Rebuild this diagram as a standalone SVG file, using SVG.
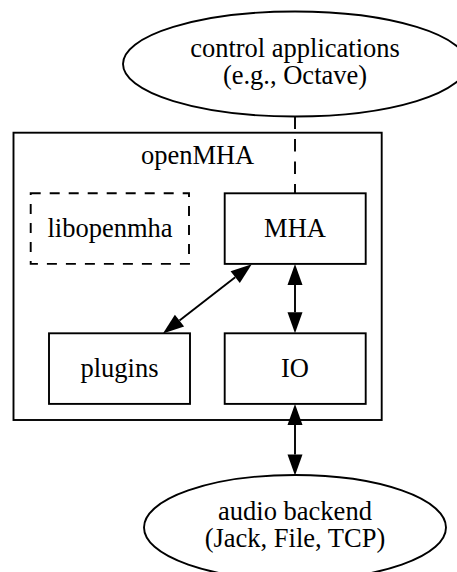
<svg xmlns="http://www.w3.org/2000/svg" width="457" height="572" viewBox="0 0 457 572">
<style>
  .shape { fill: none; stroke: #000; stroke-width: 1.9; }
  .dashed { stroke-dasharray: 10,9; }
  .edge { fill: none; stroke: #000; stroke-width: 1.9; marker-start: url(#arrow); marker-end: url(#arrow); }
  text { font-family: "Liberation Serif", "Times New Roman", serif; font-size: 26.5px; fill: #000; text-anchor: middle; }
</style>
<defs>
  <marker id="arrow" markerUnits="userSpaceOnUse" markerWidth="22" markerHeight="16" refX="0" refY="7.5" orient="auto-start-reverse" overflow="visible">
    <path d="M0,0 L21,7.5 L0,15 Z" fill="#000"/>
  </marker>
</defs>
<rect width="457" height="572" fill="#fff"/>

<g id="cluster_openMHA">
  <rect class="shape" x="13.5" y="132.7" width="368.2" height="287.3"/>
  <text x="197.6" y="164">openMHA</text>
</g>

<g id="control">
  <ellipse class="shape" cx="295" cy="64" rx="172" ry="52.5"/>
  <text x="295" y="57">control applications</text>
  <text x="295" y="84">(e.g., Octave)</text>
</g>

<g id="libopenmha">
  <rect class="shape dashed" x="30.7" y="193.3" width="158.3" height="70.6"/>
  <text x="110" y="237">libopenmha</text>
</g>

<g id="MHA">
  <rect class="shape" x="224.7" y="193.3" width="141" height="70.6"/>
  <text x="295" y="237">MHA</text>
</g>

<g id="plugins">
  <rect class="shape" x="49" y="333.3" width="141" height="70.6"/>
  <text x="119.5" y="377">plugins</text>
</g>

<g id="IO">
  <rect class="shape" x="224.7" y="333.3" width="141" height="70.6"/>
  <text x="295" y="377">IO</text>
</g>

<g id="audio">
  <ellipse class="shape" cx="295" cy="527.5" rx="151" ry="52.5"/>
  <text x="295" y="520">audio backend</text>
  <text x="295" y="547">(Jack, File, TCP)</text>
</g>

<g id="connectors">
  <line x1="295" y1="116.5" x2="295" y2="193.3" fill="none" stroke="#000" stroke-width="1.9" stroke-dasharray="12.5,10"/>
  <line class="edge" x1="235.2" y1="277.2" x2="179.5" y2="320.6"/>
  <line class="edge" x1="295" y1="285" x2="295" y2="312.3"/>
  <line class="edge" x1="295" y1="425" x2="295" y2="454.5"/>
</g>
</svg>
